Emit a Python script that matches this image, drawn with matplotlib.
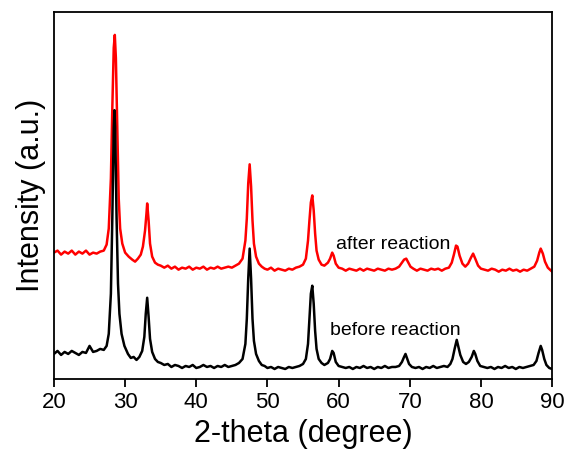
import matplotlib.pyplot as plt
import numpy as np

plt.rcParams['font.family'] = ['Liberation Sans', 'DejaVu Sans']

# XRD patterns (2-theta in degree, intensity in a.u.)
before_2theta = [20.0, 20.5, 21.0, 21.5, 22.0, 22.5, 23.0, 23.5, 24.0, 24.5, 25.0, 25.5, 26.0, 26.5,
                 27.0, 27.4, 27.7, 28.0, 28.2, 28.4, 28.5, 28.6, 28.8, 29.0, 29.2, 29.5, 29.9,
                 30.4, 30.8, 31.2, 31.6, 32.0, 32.4, 32.7, 32.9, 33.1, 33.3, 33.5, 33.8, 34.2,
                 34.6, 35.0, 35.5, 36.0, 36.5, 37.0, 37.5, 38.0, 38.5, 39.0, 39.5, 40.0, 40.5,
                 41.0, 41.5, 42.0, 42.5, 43.0, 43.5, 44.0, 44.5, 45.0, 45.5, 46.0, 46.5, 46.9,
                 47.1, 47.3, 47.5, 47.7, 47.9, 48.1, 48.4, 48.8, 49.2, 49.6, 50.0, 50.5, 51.0,
                 51.5, 52.0, 52.5, 53.0, 53.5, 54.0, 54.5, 55.0, 55.4, 55.7, 55.9, 56.1, 56.3,
                 56.5, 56.7, 56.9, 57.2, 57.6, 58.0, 58.5, 58.8, 59.1, 59.3, 59.6, 60.0, 60.5,
                 61.0, 61.5, 62.0, 62.5, 63.0, 63.5, 64.0, 64.5, 65.0, 65.5, 66.0, 66.5, 67.0,
                 67.5, 68.0, 68.5, 68.9, 69.2, 69.4, 69.6, 69.9, 70.3, 70.8, 71.3, 71.8, 72.3,
                 72.8, 73.3, 73.8, 74.3, 74.8, 75.3, 75.7, 76.0, 76.3, 76.6, 76.8, 77.1, 77.5,
                 77.9, 78.3, 78.7, 79.0, 79.2, 79.5, 79.9, 80.4, 80.9, 81.4, 81.9, 82.4, 82.9,
                 83.4, 83.9, 84.4, 84.9, 85.4, 85.9, 86.4, 86.9, 87.4, 87.8, 88.1, 88.4, 88.6,
                 88.9, 89.2, 89.6, 90.0]
before_int = [25, 28, 24, 27, 25, 28, 26, 24, 27, 26, 33, 27, 28, 30,
              29, 33, 45, 85, 160, 250, 268, 250, 160, 95, 65, 45, 33,
              25, 21, 22, 19, 22, 28, 42, 65, 81, 62, 40, 27, 20,
              17, 16, 14, 15, 12, 14, 13, 11, 13, 12, 14, 11, 12,
              14, 12, 13, 11, 13, 12, 14, 12, 13, 14, 16, 20, 35,
              60, 100, 130, 100, 60, 38, 25, 18, 14, 13, 11, 12, 10,
              12, 11, 10, 12, 11, 12, 13, 15, 20, 35, 60, 85, 93,
              75, 48, 30, 20, 16, 14, 16, 20, 28, 26, 17, 13, 12,
              11, 12, 10, 12, 11, 13, 11, 12, 10, 12, 11, 13, 11,
              12, 12, 13, 17, 22, 25, 21, 15, 12, 11, 12, 10, 12,
              11, 13, 11, 12, 13, 12, 15, 20, 30, 39, 33, 24, 17,
              15, 17, 22, 28, 25, 18, 13, 12, 11, 12, 10, 12, 11,
              13, 11, 12, 10, 12, 11, 12, 13, 14, 18, 26, 33, 29,
              20, 14, 11, 10]

after_2theta = [20.0, 20.5, 21.0, 21.5, 22.0, 22.5, 23.0, 23.5, 24.0, 24.5, 25.0, 25.5, 26.0, 26.5,
                27.0, 27.4, 27.7, 28.0, 28.2, 28.4, 28.55, 28.7, 28.9, 29.1, 29.3, 29.6, 30.0,
                30.5, 31.0, 31.4, 31.8, 32.2, 32.5, 32.8, 33.0, 33.1, 33.3, 33.5, 33.8, 34.2,
                34.6, 35.0, 35.5, 36.0, 36.5, 37.0, 37.5, 38.0, 38.5, 39.0, 39.5, 40.0, 40.5,
                41.0, 41.5, 42.0, 42.5, 43.0, 43.5, 44.0, 44.5, 45.0, 45.5, 46.0, 46.5, 46.9,
                47.1, 47.3, 47.5, 47.7, 47.9, 48.1, 48.4, 48.8, 49.2, 49.6, 50.0, 50.5, 51.0,
                51.5, 52.0, 52.5, 53.0, 53.5, 54.0, 54.5, 55.0, 55.4, 55.7, 55.9, 56.1, 56.3,
                56.5, 56.7, 56.9, 57.2, 57.6, 58.0, 58.5, 58.8, 59.1, 59.3, 59.6, 60.0, 60.5,
                61.0, 61.5, 62.0, 62.5, 63.0, 63.5, 64.0, 64.5, 65.0, 65.5, 66.0, 66.5, 67.0,
                67.5, 68.0, 68.5, 68.9, 69.2, 69.5, 69.8, 70.1, 70.5, 71.0, 71.5, 72.0, 72.5,
                73.0, 73.5, 74.0, 74.5, 75.0, 75.5, 75.9, 76.2, 76.5, 76.7, 77.0, 77.4, 77.8,
                78.2, 78.6, 78.9, 79.2, 79.6, 80.0, 80.5, 81.0, 81.5, 82.0, 82.5, 83.0, 83.5,
                84.0, 84.5, 85.0, 85.5, 86.0, 86.5, 87.0, 87.5, 87.9, 88.2, 88.4, 88.7, 89.0,
                89.4, 89.7, 90.0]
after_int = [126, 128, 124, 127, 125, 128, 124, 127, 125, 128, 124, 126, 125, 127,
             128, 134, 150, 200, 270, 330, 343, 320, 250, 180, 150, 135, 126,
             122, 119, 117, 120, 124, 132, 148, 165, 175, 158, 135, 122, 116,
             114, 113, 111, 113, 110, 112, 109, 111, 110, 112, 109, 111, 110,
             112, 109, 111, 110, 112, 110, 111, 112, 111, 113, 115, 120, 138,
             160, 195, 214, 192, 158, 135, 122, 115, 112, 110, 109, 111, 108,
             110, 109, 108, 110, 109, 111, 112, 114, 120, 138, 158, 176, 183,
             168, 145, 128, 119, 114, 113, 116, 120, 126, 123, 115, 111, 110,
             108, 110, 109, 108, 110, 108, 110, 109, 108, 110, 109, 108, 110,
             109, 110, 112, 116, 119, 120, 116, 112, 110, 108, 110, 109, 108,
             110, 109, 110, 108, 110, 111, 116, 124, 133, 132, 123, 115, 112,
             115, 121, 125, 120, 113, 110, 109, 108, 110, 109, 107, 109, 108,
             110, 108, 109, 107, 109, 108, 110, 112, 118, 126, 130, 125, 117,
             111, 109, 107]

fig = plt.figure(figsize=(5.68, 4.55), dpi=100)
ax = fig.add_axes([0.095, 0.167, 0.877, 0.807])

ax.plot(after_2theta, after_int, color='red', lw=1.8)
ax.plot(before_2theta, before_int, color='black', lw=1.8)

ax.text(59.6, 134, 'after reaction', fontsize=14, va='center', ha='left')
ax.text(58.8, 48, 'before reaction', fontsize=14, va='center', ha='left')

ax.set_xlim(20, 90)
ax.set_ylim(0, 366)
ax.set_xticks(np.arange(20, 91, 10))
ax.set_yticks([])
ax.tick_params(axis='x', direction='out', length=6, width=1.3, labelsize=16, pad=3)
for s in ax.spines.values():
    s.set_linewidth(1.3)

ax.set_xlabel('2-theta (degree)', fontsize=22, labelpad=5)
ax.set_ylabel('Intensity (a.u.)', fontsize=22, labelpad=6)

plt.savefig('out.png', dpi=100)
